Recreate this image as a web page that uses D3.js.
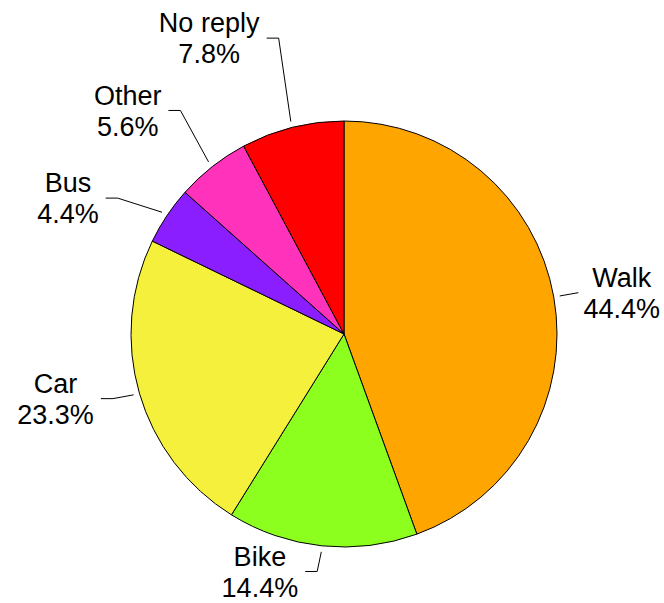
<!DOCTYPE html>
<html>
  <head>
    <meta charset="utf-8">
    <script src="https://cdn.jsdelivr.net/npm/d3@7"></script>
    <style>
      body, html { margin: 0; padding: 0; background: #fff; overflow: hidden; }
      text { font-family: "Liberation Sans", Arial, sans-serif; }
    </style>
  </head>
  <body>
    <svg id="chart" width="664" height="603"></svg>
    <script>
    // data
    var categories = ['Walk', 'Bike', 'Car', 'Bus', 'Other', 'No reply'];
    var shares = [44.4, 14.4, 23.3, 4.4, 5.6, 7.8];
    var colors = ['#ffa500', '#8cff1e', '#f5f03c', '#8b1eff', '#ff33bb', '#ff0000'];

    // label layout: extra leader length (px beyond the rim) and angle nudge (deg)
    var leaderExtra = [25, 26, 27, 51, 64, 90];
    var leaderNudge = [0, 0.5, 0.5, -2.8, 2, 1.6];

    var width = 664, height = 603;
    var cx = 344, cy = 334, r = 213;
    var fontSize = 27, lineGap = 31;

    var svg = d3.select('#chart');
    var g = svg.append('g').attr('transform', 'translate(' + cx + ',' + cy + ')');

    var rows = categories.map(function(c, i) {
      return {name: c, value: shares[i], color: colors[i], extra: leaderExtra[i], nudge: leaderNudge[i]};
    });

    var pie = d3.pie().sort(null).value(function(d) { return d.value; });
    var arc = d3.arc().innerRadius(0).outerRadius(r);
    var arcs = pie(rows);

    g.selectAll('path.slice')
      .data(arcs)
      .enter().append('path')
      .attr('class', 'slice')
      .attr('d', arc)
      .attr('fill', function(d) { return d.data.color; })
      .attr('stroke', '#000')
      .attr('stroke-width', 1);

    function pt(angle, rad) {
      return [rad * Math.sin(angle), -rad * Math.cos(angle)];
    }

    arcs.forEach(function(d) {
      var mid = (d.startAngle + d.endAngle) / 2;
      var a2 = mid + d.data.nudge * Math.PI / 180;
      var p0 = pt(mid, r + 6);
      var p1 = pt(a2, r + d.data.extra);
      var left = Math.sin(a2) < 0;
      var tail = left ? 12 : 0;
      var p2 = [p1[0] + (left ? -tail : tail), p1[1]];

      g.append('path')
        .attr('d', d3.line()([p0, p1, p2]))
        .attr('fill', 'none')
        .attr('stroke', '#000')
        .attr('stroke-width', 1);

      var lines = [d.data.name, d3.format('.1f')(d.data.value) + '%'];
      var t = g.append('text')
        .attr('font-size', fontSize)
        .attr('fill', '#000')
        .attr('text-anchor', 'middle');
      lines.forEach(function(s, k) {
        t.append('tspan').attr('x', 0).attr('y', (k - 0.5) * lineGap + fontSize * 0.36).text(s);
      });
      var w = t.node().getBBox().width;
      var gap = left ? 7 : 5;
      var tx = left ? p2[0] - gap - w / 2 : p2[0] + gap + w / 2;
      t.attr('transform', 'translate(' + tx + ',' + p2[1] + ')');
    });
    </script>
  </body>
</html>
